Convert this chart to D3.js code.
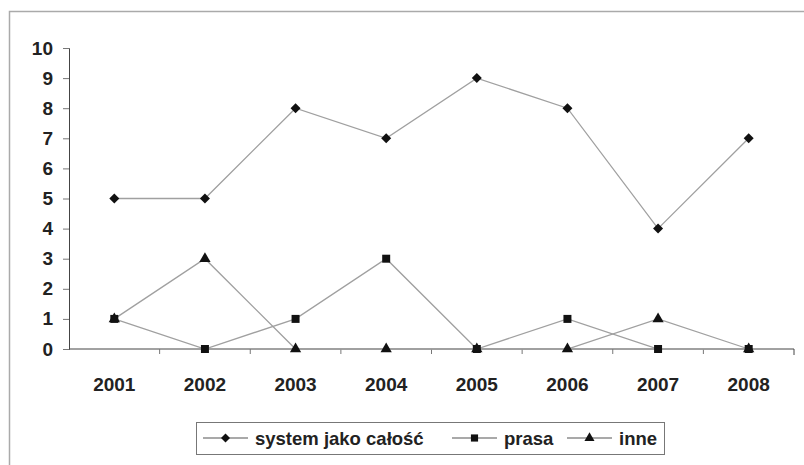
<!DOCTYPE html>
<html><head><meta charset="utf-8">
<script src="https://cdn.jsdelivr.net/npm/d3@7"></script>
<style>body{margin:0;background:#fff}svg{display:block}text{font-family:"Liberation Sans",Arial,sans-serif;fill:#222}</style>
</head><body><svg id="c" width="804" height="465"></svg>
<script>
const years = ["2001","2002","2003","2004","2005","2006","2007","2008"];
const systemVals = [5,5,8,7,9,8,4,7];
const prasaVals = [1,0,1,3,0,1,0,0];
const inneVals = [1,3,0,0,0,0,1,0];
const yTicks = [0,1,2,3,4,5,6,7,8,9,10];
const seriesNames = ["system jako całość","prasa","inne"];

const svg = d3.select("#c");
svg.append("rect").attr("x",9.5).attr("y",11.5).attr("width",800).attr("height",460)
  .attr("fill","#fff").attr("stroke","#aaa").attr("stroke-width",1.5);

const x = d3.scaleBand().domain(years).range([69,794]);
const y = d3.scaleLinear().domain([0,10]).range([349,48]);

// y axis
const ya = svg.append("g").attr("transform","translate(69,0)")
  .call(d3.axisLeft(y).tickValues(yTicks).tickSize(6).tickPadding(10));
ya.select(".domain").attr("stroke","#444");
ya.selectAll(".tick line").attr("stroke","#777");
ya.selectAll("text").attr("font-size",19).attr("font-weight","bold").style("fill","#222");

// x axis
const xa = svg.append("g").attr("transform","translate(0,349)")
  .call(d3.axisBottom(x).tickSize(0).tickPadding(29));
xa.select(".domain").attr("stroke","#444").attr("d","M69,0H794V6");
xa.selectAll("text").attr("font-size",19).attr("font-weight","bold").style("fill","#222");
svg.append("g").selectAll("line").data(years.slice(1)).join("line")
  .attr("x1",d=>x(d)).attr("x2",d=>x(d)).attr("y1",349).attr("y2",354)
  .attr("stroke","#777");

const cx = d=>x(d)+x.bandwidth()/2;
const diamond = {draw(ctx,size){const r=Math.sqrt(size/2);ctx.moveTo(0,-r);ctx.lineTo(r,0);ctx.lineTo(0,r);ctx.lineTo(-r,0);ctx.closePath();}};
const series = [
  {name:seriesNames[0], vals:systemVals, sym:diamond, size:50},
  {name:seriesNames[1], vals:prasaVals, sym:d3.symbolSquare, size:64},
  {name:seriesNames[2], vals:inneVals, sym:d3.symbolTriangle, size:55}
];
const line = d3.line().x((d,i)=>cx(years[i])).y(d=>y(d));
series.slice().reverse().forEach(s=>{
  svg.append("path").datum(s.vals).attr("d",line).attr("fill","none")
    .attr("stroke","#a0a0a0").attr("stroke-width",1.3);
});
series.slice().reverse().forEach(s=>{
  svg.append("g").selectAll("path").data(s.vals).join("path")
    .attr("d",d3.symbol().type(s.sym).size(s.size))
    .attr("transform",(d,i)=>`translate(${cx(years[i])},${y(d)})`)
    .attr("fill","#111");
});

// legend
const lg = svg.append("g");
lg.append("rect").attr("x",196.5).attr("y",422.5).attr("width",468).attr("height",32)
  .attr("fill","#fff").attr("stroke","#777");
const lx = [203,452,567];
series.forEach((s,i)=>{
  const g = lg.append("g").attr("transform",`translate(${lx[i]},438)`);
  g.append("line").attr("x1",0).attr("x2",45).attr("stroke","#555").attr("stroke-width",1.2);
  g.append("path").attr("d",d3.symbol().type(s.sym).size(s.size*0.8)).attr("transform","translate(22.5,0)").attr("fill","#111");
  g.append("text").attr("x",52).attr("y",6.5).attr("font-size",18.5).attr("font-weight","bold").text(s.name);
});
</script></body></html>
